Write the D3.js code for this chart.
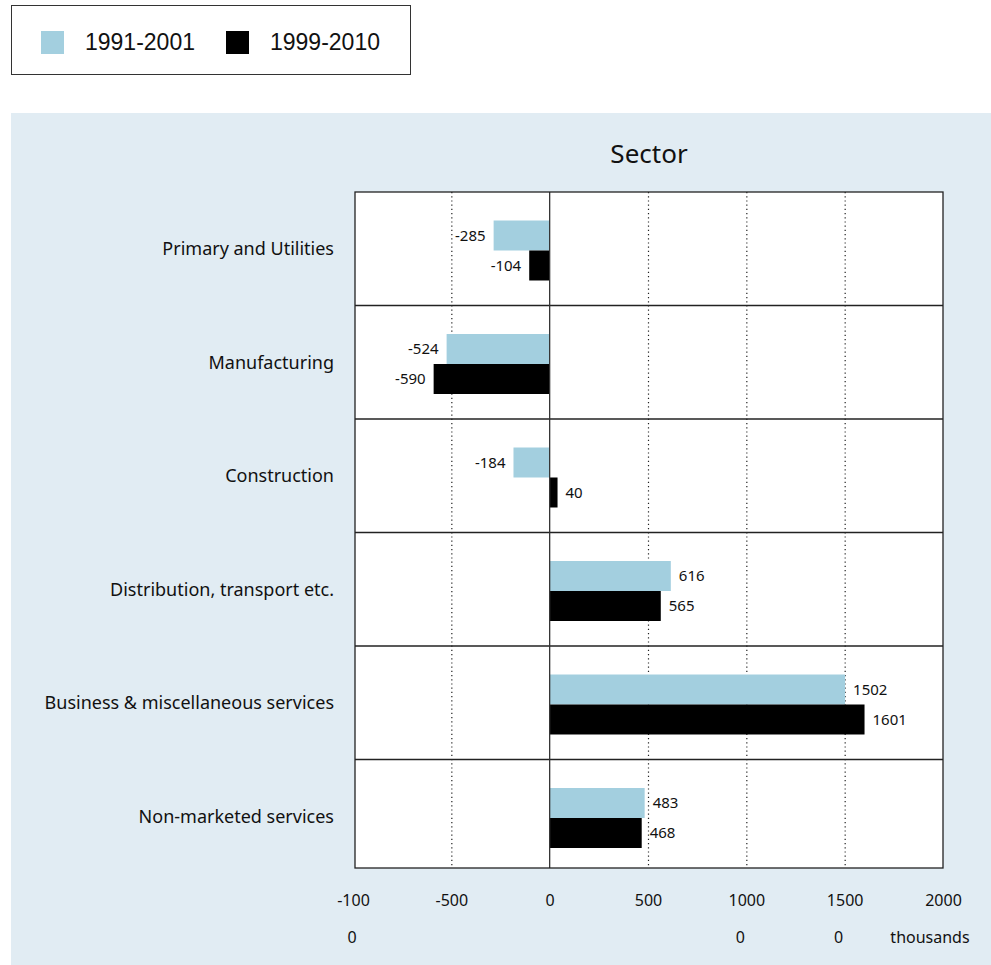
<!DOCTYPE html>
<html>
<head>
<meta charset="utf-8">
<script src="https://cdn.jsdelivr.net/npm/d3@7"></script>
<style>
  html, body { margin: 0; padding: 0; background: #ffffff; }
  svg { display: block; }
</style>
</head>
<body>
<svg id="chart" width="991" height="965"></svg>
<script>
// Employment change by sector, thousands
const sectors = [
  "Primary and Utilities",
  "Manufacturing",
  "Construction",
  "Distribution, transport etc.",
  "Business & miscellaneous services",
  "Non-marketed services"
];
const seriesNames = ["1991-2001", "1999-2010"];
const values1991_2001 = [-285, -524, -184, 616, 1502, 483];
const values1999_2010 = [-104, -590, 40, 565, 1601, 468];
const tickValues = [-1000, -500, 0, 500, 1000, 1500, 2000];
const tickLabelsTop = ["-100", "-500", "0", "500", "1000", "1500", "2000"];
const tickLabelsBottom = ["0", "", "", "", "0", "0", "thousands"];
const gridValues = [-500, 500, 1000, 1500];

const colors = ["#a3cfdf", "#000000"];
const labelFont = "'Noto Sans', 'Open Sans', sans-serif";

const rows = sectors.map((s, i) => ({
  sector: s,
  vals: [values1991_2001[i], values1999_2010[i]]
}));

const svg = d3.select("#chart");

// Legend
const legend = svg.append("g");
legend.append("rect")
  .attr("x", 11.5).attr("y", 5.5).attr("width", 399).attr("height", 69)
  .attr("fill", "#ffffff").attr("stroke", "#333").attr("stroke-width", 1);
const legendX = [41, 226];
seriesNames.forEach((name, i) => {
  legend.append("rect")
    .attr("x", legendX[i]).attr("y", 31).attr("width", 23).attr("height", 23)
    .attr("fill", colors[i]);
  legend.append("text")
    .attr("x", legendX[i] + 44).attr("y", 50)
    .attr("font-family", "'Liberation Sans', Arial, sans-serif")
    .attr("font-size", 23).attr("fill", "#111")
    .text(name);
});

// Panel background
svg.append("rect")
  .attr("x", 11).attr("y", 113).attr("width", 980).attr("height", 852)
  .attr("fill", "#e1ecf3");

svg.append("text")
  .attr("x", 649).attr("y", 163)
  .attr("text-anchor", "middle")
  .attr("font-family", labelFont)
  .attr("font-size", 26).attr("fill", "#111")
  .text("Sector");

const plot = { left: 353, right: 943, top: 192, bottom: 868 };

const x = d3.scaleLinear().domain([-1000, 2000]).range([plot.left, plot.right]);
// the last row is cut short by the frame's bottom edge
const y = d3.scaleBand().domain(sectors).range([plot.top, plot.bottom + 5]).padding(0);
const inner = d3.scaleBand().domain([0, 1])
  .range([1.75, y.bandwidth() + 1.75]).paddingOuter(0.892).paddingInner(0);

// Plot area
svg.append("rect")
  .attr("x", plot.left + 2).attr("y", plot.top)
  .attr("width", plot.right - plot.left - 2).attr("height", plot.bottom - plot.top)
  .attr("fill", "#ffffff");

// Dotted gridlines
svg.append("g").selectAll("line")
  .data(gridValues).join("line")
  .attr("x1", d => x(d) + 0.5).attr("x2", d => x(d) + 0.5)
  .attr("y1", plot.top).attr("y2", plot.bottom)
  .attr("stroke", "#222").attr("stroke-width", 1.2)
  .attr("stroke-dasharray", "1.2,3");

// Bars
const groups = svg.append("g").selectAll("g")
  .data(rows).join("g")
  .attr("transform", d => `translate(0,${y(d.sector)})`);

groups.selectAll("rect")
  .data(d => d.vals.map((v, i) => ({ v, i })))
  .join("rect")
  .attr("x", d => x(Math.min(0, d.v)))
  .attr("width", d => Math.abs(x(d.v) - x(0)))
  .attr("y", d => inner(d.i))
  .attr("height", inner.bandwidth())
  .attr("fill", d => colors[d.i]);

groups.selectAll("text.val")
  .data(d => d.vals.map((v, i) => ({ v, i })))
  .join("text")
  .attr("class", "val")
  .attr("x", d => d.v < 0 ? x(d.v) - 8 : x(d.v) + 8)
  .attr("y", d => inner(d.i) + inner.bandwidth() / 2)
  .attr("dy", "0.36em")
  .attr("text-anchor", d => d.v < 0 ? "end" : "start")
  .attr("font-family", labelFont)
  .attr("font-size", 15).attr("fill", "#111")
  .text(d => d.v);

// Row separators
svg.append("g").selectAll("line")
  .data(sectors.slice(1)).join("line")
  .attr("x1", plot.left + 2).attr("x2", plot.right)
  .attr("y1", d => y(d)).attr("y2", d => y(d))
  .attr("stroke", "#222").attr("stroke-width", 1.3);

// Zero line
svg.append("line")
  .attr("x1", x(0)).attr("x2", x(0))
  .attr("y1", plot.top).attr("y2", plot.bottom)
  .attr("stroke", "#333").attr("stroke-width", 1.3);

// Frame
svg.append("rect")
  .attr("x", plot.left + 2).attr("y", plot.top)
  .attr("width", plot.right - plot.left - 2).attr("height", plot.bottom - plot.top)
  .attr("fill", "none").attr("stroke", "#222").attr("stroke-width", 1.3);

// Category labels
svg.append("g").selectAll("text")
  .data(sectors).join("text")
  .attr("x", 334)
  .attr("y", d => y(d) + y.bandwidth() / 2)
  .attr("dy", "0.36em")
  .attr("text-anchor", "end")
  .attr("font-family", labelFont)
  .attr("font-size", 18).attr("fill", "#111")
  .text(d => d);

// Axis labels (two lines)
const axis = d3.axisBottom(x).tickValues(tickValues).tickSize(0)
  .tickFormat((d, i) => tickLabelsTop[i]);
const axisG = svg.append("g")
  .attr("transform", `translate(0,${plot.bottom})`)
  .call(axis);
axisG.select(".domain").remove();
axisG.selectAll("text")
  .attr("y", 38).attr("dy", 0)
  .attr("font-family", labelFont)
  .attr("font-size", 16).attr("fill", "#111");

const bottomOffsets = [-1, 0, 0, 0, -6, -6, -13];
svg.append("g").selectAll("text")
  .data(tickValues.map((v, i) => ({ v, i }))).join("text")
  .attr("x", d => x(d.v) + bottomOffsets[d.i])
  .attr("y", 943)
  .attr("text-anchor", "middle")
  .attr("font-family", labelFont)
  .attr("font-size", 16).attr("fill", "#111")
  .text(d => tickLabelsBottom[d.i]);
</script>
</body>
</html>
